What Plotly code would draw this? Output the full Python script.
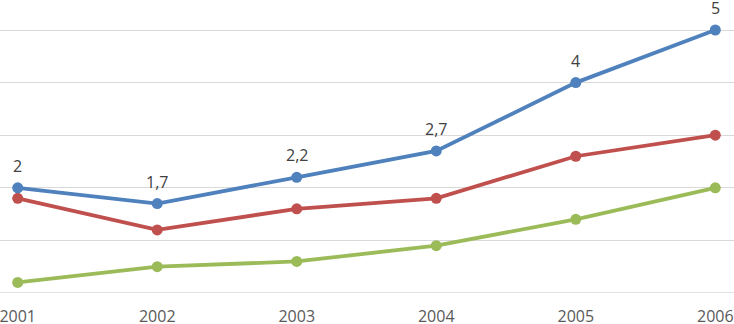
import plotly.graph_objects as go

years = [2001, 2002, 2003, 2004, 2005, 2006]
tick_labels = ["2001", "2002", "2003", "2004", "2005", "2006"]
series_blue = [2, 1.7, 2.2, 2.7, 4, 5]
series_red = [1.8, 1.2, 1.6, 1.8, 2.6, 3.0]
series_green = [0.2, 0.5, 0.6, 0.9, 1.4, 2.0]

blue_labels = [str(v).replace(".", ",") for v in series_blue]

fig = go.Figure()
fig.add_trace(go.Scatter(x=years, y=series_green, mode="lines+markers",
                         line=dict(color="#9BBB59", width=3.8),
                         marker=dict(size=11, color="#9BBB59"), cliponaxis=False))
fig.add_trace(go.Scatter(x=years, y=series_red, mode="lines+markers",
                         line=dict(color="#C0504D", width=3.8),
                         marker=dict(size=11, color="#C0504D"), cliponaxis=False))
fig.add_trace(go.Scatter(x=years, y=series_blue, mode="lines+markers",
                         line=dict(color="#4F81BD", width=3.8),
                         marker=dict(size=11, color="#4F81BD"), cliponaxis=False))

for xv, yv, t in zip(years, series_blue, blue_labels):
    fig.add_annotation(x=xv, y=yv, text=t, showarrow=False, yshift=22,
                       xanchor="center", yanchor="middle",
                       font=dict(family="Open Sans, sans-serif", size=16, color="#404040"))

fig.update_layout(
    width=734, height=324,
    margin=dict(l=0, r=0, t=0, b=31),
    paper_bgcolor="white", plot_bgcolor="white",
    showlegend=False,
    xaxis=dict(range=[2000.873, 2006.134], tickmode="array", tickvals=years,
               ticktext=tick_labels, showgrid=False, zeroline=False, showline=False,
               ticks="", automargin=False, ticklabeloverflow="allow", ticklabelstandoff=12,
               tickfont=dict(family="Open Sans, sans-serif", size=16, color="#595959")),
    yaxis=dict(range=[0, 5.5703], dtick=1, showgrid=True, gridcolor="#D9D9D9", gridwidth=1.3,
               zeroline=False, showline=False, showticklabels=False, ticks="",
               automargin=False),
)
fig.add_shape(type="line", xref="paper", yref="y", x0=0, x1=1, y0=0, y1=0,
              line=dict(color="#D9D9D9", width=1.3), layer="below")

fig.write_html("out.html", config={"displayModeBar": False},
               post_script="document.body.style.margin='0px';document.body.style.overflow='hidden';")
